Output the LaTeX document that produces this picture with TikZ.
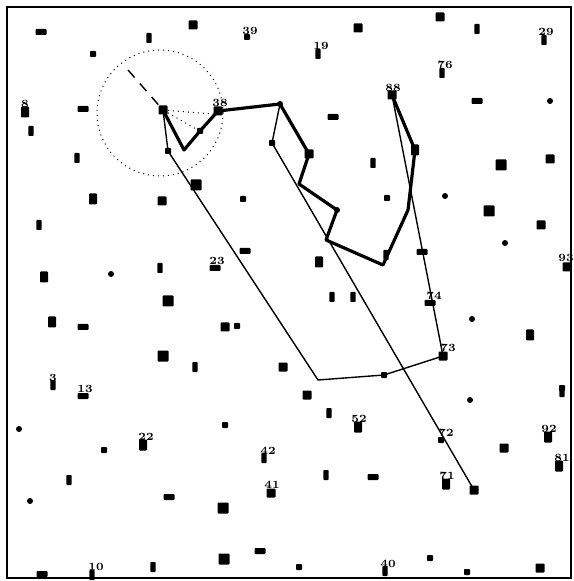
\documentclass[tikz,border=0pt]{standalone}
\begin{document}
\begin{tikzpicture}[x=0.5pt,y=-0.5pt,
  blob/.style={fill=black,draw=none,inner sep=0pt,rounded corners=0.4pt},
  bsq/.style={blob,minimum width=4.5pt,minimum height=4.5pt},
  bbig/.style={blob,minimum width=5.5pt,minimum height=5.5pt},
  bsm/.style={blob,minimum width=3pt,minimum height=3pt},
  bhz/.style={blob,minimum width=5.5pt,minimum height=3pt},
  bvt/.style={blob,minimum width=2.6pt,minimum height=5pt},
  bvb/.style={blob,minimum width=4pt,minimum height=5.5pt},
  bdot/.style={circle,fill=black,draw=none,inner sep=0pt,minimum size=3pt},
  lbl/.style={inner sep=0pt,font=\fontsize{5.5}{5.5}\selectfont\bfseries},
  thickpath/.style={line width=1.6pt,line join=round},
  thinpath/.style={line width=0.7pt,line join=round},
  frame/.style={line width=1.2pt}]
\useasboundingbox (0,0) rectangle (573,581);
\draw[frame] (7,7) rectangle (571,578);
% path nodes
\node[bsq] (n0) at (163,110) {};
\coordinate (c1) at (184,150);
\node[bsm] (n2) at (200,131) {};
\node[bsq] (n3) at (218,111) {};
\node[bdot] (n4) at (280,104) {};
\node[bsq] (n5) at (309,154) {};
\coordinate (c6) at (299,184);
\node[bdot] (n7) at (337,210) {};
\coordinate (c8) at (326,240);
\node[bvt] (n9) at (386,255) {};
\coordinate (c9) at (383,265);
\coordinate (c10) at (408,210);
\node[bvb] (n11) at (415,150) {};
\node[bsq] (n12) at (392,95) {};
\node[bsm] (b12) at (168,151) {};
\coordinate (c13) at (318,380);
\node[bsm] (n14) at (384,375) {};
\node[bsq] (n15) at (443,356) {};
\node[bhz] (n16) at (430,303) {};
\node[bhz] (n17) at (422,252) {};
\node[bsm] (b18) at (272,143) {};
\node[bsq] (n19) at (474,490) {};
\coordinate (d0) at (128,70);
\coordinate (e1) at (213,114);
\coordinate (e2) at (196,129);
% circle
\coordinate (cc) at (160,113);
\draw[dotted,line width=0.5pt] (cc) circle[radius=63];
\draw[dashed,line width=0.7pt,dash pattern=on 5pt off 4pt] (d0) -- (n0);
\draw[dotted,line width=0.5pt] (n0) -- (e1);
\draw[dotted,line width=0.5pt] (n0) -- (e2);
% thick path
\draw[thickpath] (n0.center) -- (c1) -- (n2.center) -- (n3.center) -- (n4.center) -- (n5.center) -- (c6) -- (n7.center) -- (c8) -- (c9) -- (c10) -- (n11.center) -- (n12.center);
% thin polygon
\draw[thinpath] (n0.center) -- (b12.center) -- (c13) -- (n14.center) -- (n15.center) -- (n12.center);
% long thin line
\draw[thinpath] (n4.center) -- (b18.center) -- (n19.center);
% scattered blobs
\foreach \x/\y/\s [count=\i] in {
 41/32/bhz, 149/38/bvt, 193/25/bsq, 93/54/bsm, 25/112/bvb, 83/109/bhz,
 31/131/bvt, 77/158/bvt, 93/199/bvb, 196/185/bbig, 162/201/bsq,
 247/37/bsm, 358/28/bsq, 318/54/bvt, 333/117/bhz, 373/163/bvt,
 243/199/bsm, 387/198/bsm, 440/17/bsq, 477/29/bvt, 544/40/bvt,
 442/73/bvt, 477/101/bhz, 550/101/bdot, 501/165/bbig, 550/159/bsq,
 445/196/bdot, 39/225/bvt, 44/277/bvb, 111/274/bdot, 160/268/bvt,
 168/301/bbig, 52/322/bvb, 83/327/bhz, 163/356/bbig, 195/367/bvt,
 53/385/bvt, 83/396/bhz, 19/429/bdot, 104/450/bsm, 143/445/bvb,
 69/480/bvt, 30/501/bdot, 169/497/bhz, 42/574/bhz, 92/575/bvt,
 153/567/bvt, 245/251/bhz, 215/268/bhz, 319/262/bvb, 332/297/bvt,
 353/297/bvt, 225/327/bsq, 237/326/bsm, 283/367/bsq, 489/211/bbig,
 541/225/bsq, 505/243/bdot, 567/267/bsq, 472/319/bdot, 530/335/bvb,
 562/388/bsm, 307/395/bsq, 329/413/bvt, 358/427/bvb, 225/425/bsm,
 264/458/bvt, 326/475/bvt, 373/477/bhz, 271/493/bsq, 223/508/bbig,
 260/551/bhz, 224/559/bbig, 299/567/bsm, 385/571/bvt, 562/392/bvt,
 470/400/bdot, 548/437/bvb, 504/448/bsq, 441/440/bsm, 559/466/bvb,
 446/484/bvb, 430/558/bsm, 467/572/bsm, 540/568/bsq}
 \node[\s] (b\i) at (\x,\y) {};
% labels
\foreach \x/\y/\t [count=\i] in {
 250/31/39, 321/46/19, 546/32/29, 445/65/76, 393/88/88, 220/103/38,
 25/104/8, 217/261/23, 566/258/93, 434/296/74, 448/348/73, 53/378/3,
 85/389/13, 146/437/22, 268/451/42, 359/419/52, 446/433/72, 549/429/92,
 562/458/81, 447/476/71, 272/485/41, 96/567/10, 388/564/40}
 \node[lbl] (l\i) at (\x,\y) {\t};
\end{tikzpicture}
\end{document}
